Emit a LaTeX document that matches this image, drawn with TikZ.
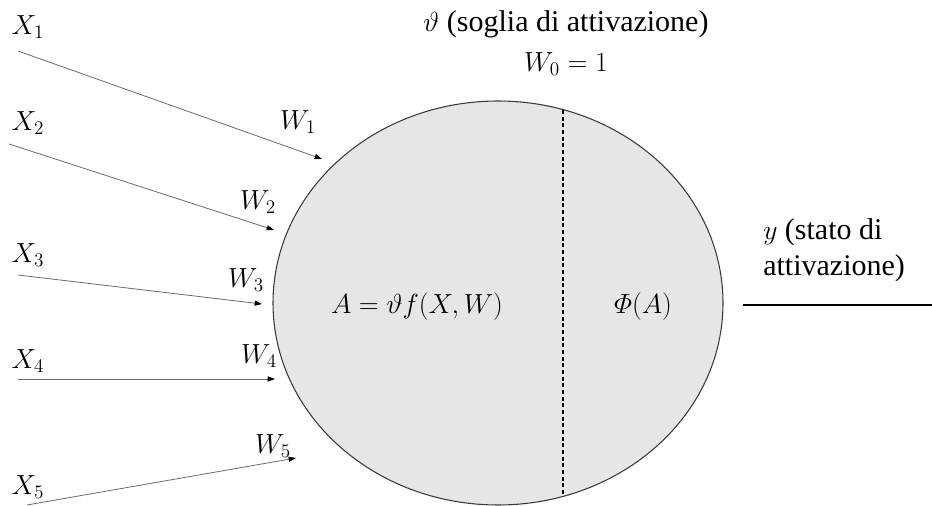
\documentclass[tikz,border=0pt]{standalone}
\usepackage{amsmath}
\usepackage{fontspec}
\setmainfont{Liberation Serif}
\usetikzlibrary{arrows.meta,shapes.geometric}
\definecolor{cellfill}{HTML}{E6E6E6}
\definecolor{celledge}{HTML}{3A3A3A}
\definecolor{wire}{HTML}{6A6A6A}
\tikzset{
  cell/.style={ellipse, draw=celledge, fill=cellfill, line width=0.8pt, inner sep=0pt,
               minimum width=337.5pt, minimum height=303pt},
  lbl/.style={inner sep=0pt, font=\fontsize{22.5}{27}\selectfont},
  note/.style={lbl, align=center},
  inarr/.style={-{Triangle[length=5.5pt,width=3.8pt,color=black]}, draw=wire, line width=0.6pt},
  outln/.style={draw=black, line width=1.4pt},
  split/.style={draw=black, line width=0.8pt, dash pattern=on 3pt off 2pt},
}

\begin{document}
\begin{tikzpicture}[x=0.75pt, y=-0.75pt]
  \useasboundingbox (0,0) rectangle (932,506);
  \node[cell] (cell) at (498,303) {};
  \coordinate (dtop) at (563,110);
  \coordinate (dbot) at (563,496);
  \draw[split] (dtop) -- (dbot);
  \node[lbl] (act) at (417,307) {$A=\vartheta f(X,W)$};
  \node[lbl] (phi) at (643,307) {$\varPhi(A)$};
  \node[note] (theta) at (566,43) {$\vartheta$ (soglia di attivazione)\\[3pt]$W_0=1$};
  \foreach \i/\sx/\sy/\ex/\ey/\lx/\ly/\wx/\wy in {
      1/18/51/322/159/28/27/298/122,
      2/9/144/274/230/28/123/258/202,
      3/18/275/262/304/28/255/246/280,
      4/18/379/275/379/28/361/259/356,
      5/27/505/296/458/28/487/273/446}{
    \node[lbl] (x\i) at (\lx,\ly) {$X_{\i}$};
    \node[lbl] (w\i) at (\wx,\wy) {$W_{\i}$};
    \coordinate (s\i) at (\sx,\sy);
    \coordinate (e\i) at (\ex,\ey);
    \draw[inarr] (s\i) -- (e\i);
  }
  \coordinate (yfrom) at (743,305);
  \coordinate (yto) at (932,305);
  \draw[outln] (yfrom) -- (yto);
  \node[lbl, align=left, anchor=west] (yout) at (763,250) {$y$ (stato di\\attivazione)};
\end{tikzpicture}
\end{document}
